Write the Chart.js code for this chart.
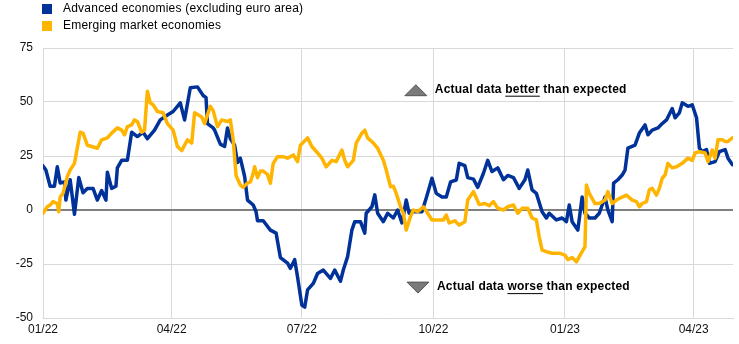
<!DOCTYPE html>
<html>
<head>
<meta charset="utf-8">
<script src="https://cdn.jsdelivr.net/npm/chart.js@4"></script>
<style>
  html, body { margin: 0; padding: 0; background: #fff; }
  #wrap { position: relative; width: 739px; height: 344px; }
</style>
</head>
<body>
<div id="wrap"><canvas id="chart" width="739" height="344"></canvas></div>
<script>
// Surpresas económicas: dias desde 01/01/2022
const advLabel = "Advanced economies (excluding euro area)";
const emeLabel = "Emerging market economies";

const advDays = [0, 2, 5, 8, 10, 12, 15, 16, 19, 22, 25, 28, 31, 35, 38, 41, 44, 45, 48, 51, 52, 55, 59, 62, 66, 70, 73, 78, 82, 87, 91, 96, 99, 103, 108, 112, 114, 115, 119, 120, 124, 127, 129, 131, 134, 136, 138, 141, 143, 147, 149, 150, 154, 159, 163, 166, 171, 173, 176, 178, 181, 183, 185, 189, 192, 196, 201, 204, 208, 210, 213, 216, 218, 222, 225, 226, 230, 232, 234, 238, 241, 245, 248, 251, 254, 256, 259, 265, 268, 272, 275, 279, 282, 285, 289, 291, 295, 297, 301, 304, 308, 311, 314, 318, 322, 325, 329, 333, 337, 339, 342, 345, 349, 352, 354, 359, 363, 366, 368, 370, 374, 377, 379, 382, 386, 389, 393, 395, 398, 399, 402, 405, 407, 409, 414, 417, 421, 423, 426, 430, 433, 436, 440, 442, 445, 447, 451, 454, 457, 459, 461, 464, 466, 470, 473, 477, 479, 482];
const advValues = [20.4, 18.5, 11, 11, 20, 12.5, 13, 4.6, 14, -2, 15, 8, 10, 10, 4.6, 9, 4.6, 17.5, 10, 11, 19.5, 23, 23, 36, 34, 36, 33, 37, 41.7, 44, 45.6, 49.6, 41.7, 56.6, 57, 53, 52, 40, 38, 37, 30.5, 29.4, 38, 33, 30, 22, 24, 15.5, 4.6, 2.3, -0.8, -5, -5, -9.3, -10.7, -22, -24.6, -27, -23, -31, -44, -45, -37, -34, -29.4, -27.8, -31.7, -27.8, -33, -27.8, -21.6, -9.3, -5.4, -5.4, -10.7, -1.5, 1.5, 7, -1.5, -5.4, -1.5, -3.7, 0, -6, 4.6, -1.5, -0.8, -0.8, 5.6, 14.7, 7.7, 6, 6, 13, 13.9, 21.6, 20.5, 15, 14.3, 10.5, 17, 23, 17.8, 19.5, 14, 16, 15, 10, 14, 18.5, 9.3, 7.7, -0.8, -3.7, -1.5, -4.6, -3.7, -5.4, 2.3, -5.4, -9.3, 6, -1.5, -3.7, -3.7, -1.5, 6, 0, -5.4, 12.4, 14, 16.2, 18.5, 28.6, 30, 35.6, 39.4, 34.8, 37, 38, 40, 41.7, 47, 42.7, 45, 49.6, 48, 48.7, 42.7, 28.6, 27, 28, 21.6, 22.4, 27, 28, 24, 21];

const emeDays = [0, 3, 5, 7, 10, 11, 12, 14, 17, 19, 22, 26, 28, 31, 34, 38, 41, 45, 48, 52, 55, 57, 59, 62, 64, 66, 69, 71, 73, 75, 77, 80, 84, 87, 91, 94, 97, 101, 104, 106, 111, 113, 117, 119, 122, 125, 129, 131, 133, 135, 138, 140, 143, 145, 147, 148, 150, 152, 154, 157, 159, 161, 164, 168, 171, 175, 178, 180, 185, 188, 192, 195, 198, 202, 205, 209, 211, 213, 217, 219, 223, 225, 227, 231, 234, 238, 240, 243, 245, 247, 250, 252, 254, 257, 259, 262, 266, 269, 272, 275, 280, 282, 284, 288, 291, 295, 297, 301, 303, 305, 309, 312, 315, 318, 322, 325, 329, 332, 335, 339, 342, 345, 347, 349, 352, 356, 361, 365, 367, 370, 373, 375, 379, 380, 382, 386, 389, 393, 395, 398, 401, 405, 408, 412, 415, 417, 419, 422, 424, 426, 429, 431, 433, 435, 437, 440, 443, 447, 451, 454, 456, 459, 463, 465, 468, 470, 472, 475, 477, 479, 482];
const emeValues = [-1.5, 1.5, 2.3, 3.9, 3, -0.8, 6, 7.7, 15.5, 18.5, 21.6, 36, 35.6, 30, 29.4, 28.6, 32.5, 33.4, 35.6, 38, 37, 34.8, 38.6, 39.4, 41.7, 41, 36, 37, 55, 49.6, 48.7, 45.6, 45, 40, 37, 29.4, 27.5, 32.5, 31, 45, 43, 40, 48, 46, 38.6, 41.7, 41, 41.7, 32.5, 16, 11.5, 10.5, 12.5, 13, 17, 20, 15, 18, 18, 16.5, 12.4, 21.6, 24.7, 24.7, 24, 25.5, 22.4, 30, 33.4, 29.4, 26.4, 24, 20, 23, 22.4, 27.8, 23, 20, 23, 31, 35.6, 37, 33.4, 31, 28.6, 23, 18.5, 10.8, 11, 7.7, 1.5, -1.5, -9.3, -3, 0, -0.8, 1.5, -1.5, -4.6, -4.6, -4.6, -2.3, -6, -5, -7, -5.4, 4.6, 8.5, 5.6, 2.5, 3, 2, 3.9, 0.8, 0, 1.5, 2.3, -1.5, 0.8, 0.8, -3.7, -4.6, -12.4, -18.6, -19.3, -20, -20, -20.9, -23, -22, -24, -21.6, -17, 11.6, 7.7, 3, 3, 4.6, 8.5, 3, 4.6, 6, 6.9, 4.6, 3.9, 1.5, 3, 3.9, 9.3, 10, 6.9, 10, 14.7, 16.2, 21.6, 19.5, 20, 21.6, 24, 23, 26.4, 27, 26.4, 22.4, 27.8, 24, 32.5, 32.5, 31.7, 31.7, 33.4];

// Eixo x: inícios de trimestre
const tickDays = [0, 90, 181, 273, 365, 455];
const tickLabels = ["01/22", "04/22", "07/22", "10/22", "01/23", "04/23"];
const yTicks = [-50, -25, 0, 25, 50, 75];

const notes = [
    { day: 274, value: 55.7, before: "Actual data ", key: "better", after: " than expected", up: true },
    { day: 275.5, value: -35.7, before: "Actual data ", key: "worse", after: " than expected", up: false }
];

const BLUE = "#003299";
const ORANGE = "#FFB400";

function toXY(days, values) {
    return days.map((d, i) => ({ x: d, y: values[i] }));
}

// Legenda vertical no canto superior esquerdo
const legendPlugin = {
    id: "topLegend",
    afterDraw(chart) {
        const ctx = chart.ctx;
        ctx.save();
        ctx.font = "12px 'Liberation Sans', Arial, sans-serif";
        ctx.letterSpacing = "0.22px";
        ctx.textBaseline = "middle";
        chart.data.datasets.forEach((ds, i) => {
            const y = 4 + i * 17;
            ctx.fillStyle = ds.borderColor;
            ctx.fillRect(42, y, 10, 10);
            ctx.fillStyle = "#000";
            ctx.fillText(ds.label, 63, y + 5);
        });
        ctx.restore();
    }
};

// Triângulos e textos "better"/"worse"
const notesPlugin = {
    id: "notes",
    afterDraw(chart) {
        const ctx = chart.ctx;
        const xs = chart.scales.x, ys = chart.scales.y;
        ctx.save();
        ctx.font = "bold 12px 'Liberation Sans', Arial, sans-serif";
        ctx.letterSpacing = "0.2px";
        ctx.textBaseline = "middle";
        notes.forEach(n => {
            const x = xs.getPixelForValue(n.day);
            const y = ys.getPixelForValue(n.value);
            // triângulo
            const cx = x - 19, w = 11, h = 10;
            ctx.beginPath();
            if (n.up) {
                ctx.moveTo(cx - w, y + h / 2 + 1);
                ctx.lineTo(cx + w, y + h / 2 + 1);
                ctx.lineTo(cx, y - h / 2);
            } else {
                ctx.moveTo(cx - w, y - h / 2);
                ctx.lineTo(cx + w, y - h / 2);
                ctx.lineTo(cx, y + h / 2 + 1);
            }
            ctx.closePath();
            ctx.fillStyle = "#7a7a7a";
            ctx.fill();
            ctx.strokeStyle = "#555";
            ctx.lineWidth = 1;
            ctx.stroke();
            // texto
            ctx.fillStyle = "#000";
            let tx = x;
            ctx.fillText(n.before, tx, y);
            tx += ctx.measureText(n.before).width;
            ctx.fillText(n.key, tx, y);
            const kw = ctx.measureText(n.key).width;
            ctx.fillRect(tx, y + 6, kw, 1);
            tx += kw;
            ctx.fillText(n.after, tx, y);
        });
        ctx.restore();
    }
};

new Chart(document.getElementById("chart").getContext("2d"), {
    type: "line",
    data: {
        datasets: [
            { label: advLabel, data: toXY(advDays, advValues), borderColor: BLUE, backgroundColor: BLUE, order: 2 },
            { label: emeLabel, data: toXY(emeDays, emeValues), borderColor: ORANGE, backgroundColor: ORANGE, order: 1 }
        ]
    },
    options: {
        responsive: false,
        animation: false,
        parsing: false,
        elements: {
            line: { borderWidth: 3.5, tension: 0, borderJoinStyle: "round", borderCapStyle: "round" },
            point: { radius: 0 }
        },
        layout: { padding: { top: 48, right: 6, left: 0, bottom: 0 } },
        plugins: {
            legend: { display: false },
            tooltip: { enabled: false }
        },
        scales: {
            x: {
                type: "linear",
                min: 0,
                max: 482.5,
                afterBuildTicks: axis => { axis.ticks = tickDays.map(v => ({ value: v })); },
                afterFit: axis => { axis.height = 26; },
                ticks: {
                    autoSkip: false,
                    maxRotation: 0,
                    padding: 4,
                    color: "#111",
                    font: { family: "'Liberation Sans', Arial, sans-serif", size: 12 },
                    callback: v => tickLabels[tickDays.indexOf(v)]
                },
                grid: { color: "#d9d9d9", lineWidth: 1, drawTicks: false },
                border: { color: "#d9d9d9", width: 1 }
            },
            y: {
                min: -50,
                max: 75,
                afterBuildTicks: axis => { axis.ticks = yTicks.map(v => ({ value: v })); },
                afterFit: axis => { axis.width = 43; },
                ticks: {
                    padding: 10,
                    color: "#111",
                    font: { family: "'Liberation Sans', Arial, sans-serif", size: 12 }
                },
                grid: {
                    drawTicks: false,
                    color: c => (c.tick && c.tick.value === 0) ? "#808080" : "#d9d9d9",
                    lineWidth: c => (c.tick && c.tick.value === 0) ? 2 : 1
                },
                border: { color: "#d9d9d9", width: 1 }
            }
        }
    },
    plugins: [legendPlugin, notesPlugin]
});
</script>
</body>
</html>
